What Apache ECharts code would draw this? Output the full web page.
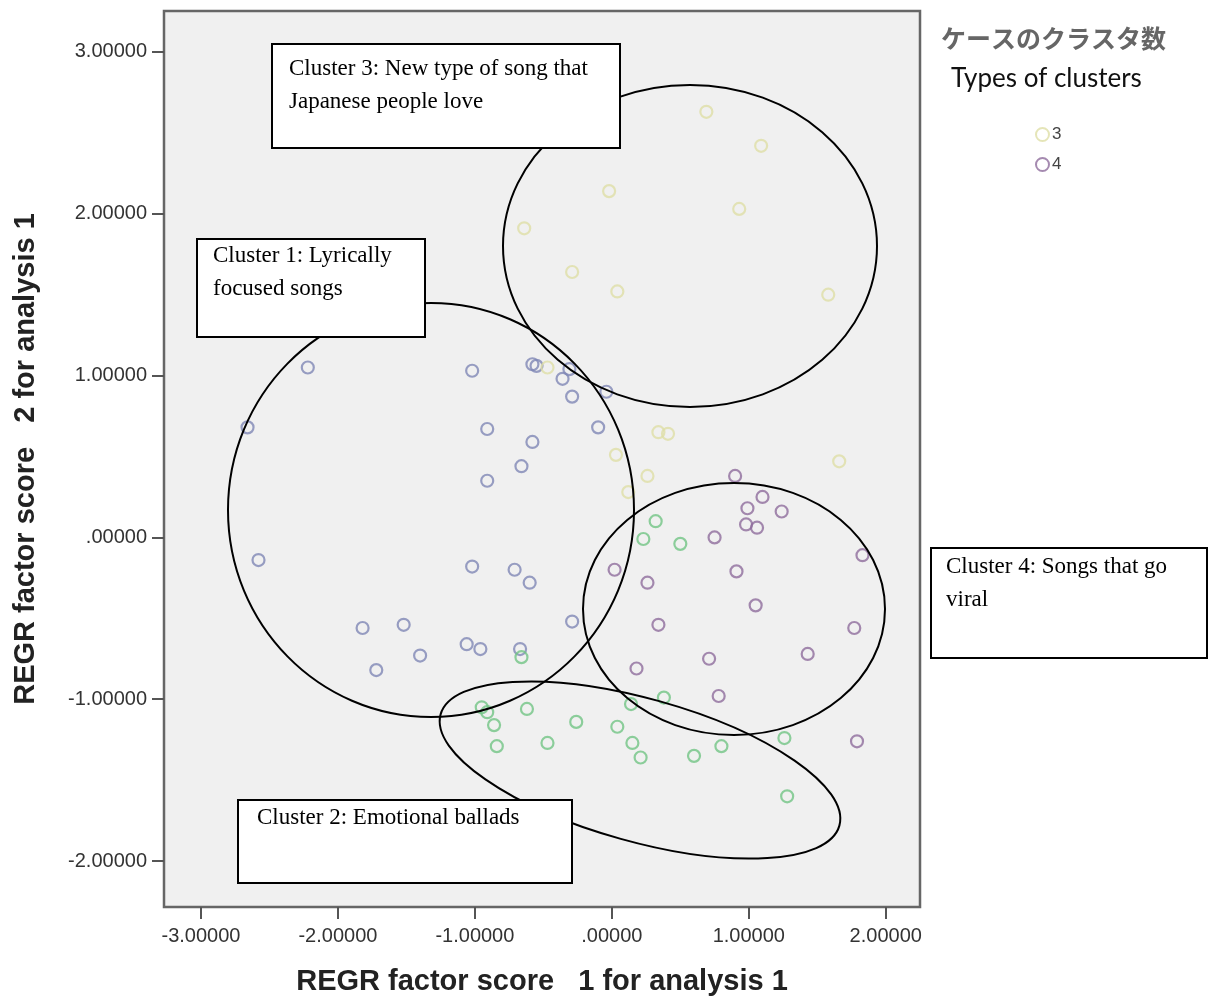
<!DOCTYPE html>
<html>
<head>
<meta charset="utf-8">
<script src="https://cdn.jsdelivr.net/npm/echarts@6/dist/echarts.min.js"></script>
<style>
  html, body { margin: 0; padding: 0; background: #fff; }
  #chart { width: 1208px; height: 1000px; }
</style>
</head>
<body>
<div id="chart"></div>
<script>
// factor scores, [score 1, score 2]
const cluster1 = [
  [-2.22, 1.05], [-2.66, 0.68], [-2.58, -0.14], [-1.02, 1.03], [-0.58, 1.07],
  [-0.55, 1.06], [-0.36, 0.98], [-0.31, 1.04], [-0.29, 0.87], [-0.04, 0.90],
  [-0.10, 0.68], [-0.91, 0.67], [-0.58, 0.59], [-0.66, 0.44], [-0.91, 0.35],
  [-1.02, -0.18], [-0.71, -0.20], [-0.60, -0.28], [-0.29, -0.52], [-1.82, -0.56],
  [-1.52, -0.54], [-1.40, -0.73], [-1.72, -0.82], [-1.06, -0.66], [-0.96, -0.69],
  [-0.67, -0.69]
];
const cluster2 = [
  [-0.95, -1.05], [-0.91, -1.08], [-0.86, -1.16], [-0.84, -1.29], [-0.62, -1.06],
  [-0.47, -1.27], [-0.26, -1.14], [0.04, -1.17], [0.14, -1.03], [0.15, -1.27],
  [0.21, -1.36], [0.38, -0.99], [0.60, -1.35], [0.80, -1.29], [1.26, -1.24],
  [1.28, -1.60], [0.32, 0.10], [0.23, -0.01], [0.50, -0.04], [-0.66, -0.74]
];
const cluster3 = [
  [0.69, 2.63], [1.09, 2.42], [-0.02, 2.14], [0.93, 2.03], [-0.64, 1.91],
  [-0.29, 1.64], [0.04, 1.52], [1.58, 1.50], [-0.47, 1.05], [0.34, 0.65],
  [0.41, 0.64], [0.03, 0.51], [0.26, 0.38], [0.12, 0.28], [1.66, 0.47]
];
const cluster4 = [
  [0.90, 0.38], [1.10, 0.25], [0.99, 0.18], [1.24, 0.16], [0.98, 0.08],
  [1.06, 0.06], [0.75, 0.00], [1.83, -0.11], [0.02, -0.20], [0.26, -0.28],
  [0.91, -0.21], [1.05, -0.42], [0.34, -0.54], [1.77, -0.56], [1.43, -0.72],
  [0.18, -0.81], [0.71, -0.75], [0.78, -0.98], [1.79, -1.26]
];
const clusterNames = ['1', '2', '3', '4'];
const legendNames = ['3', '4'];
const xTicks = [-3, -2, -1, 0, 1, 2];
const yTicks = [-2, -1, 0, 1, 2, 3];

const colors = ['#7f87b5', '#72c484', '#dedea6', '#8f6d9c'];
const fmt = v => (v === 0 ? '.00000' : v.toFixed(5));

const chart = echarts.init(document.getElementById('chart'));

const series = [cluster1, cluster2, cluster3, cluster4].map((d, i) => ({
  name: clusterNames[i],
  type: 'scatter',
  data: d,
  symbol: 'circle',
  symbolSize: 12,
  itemStyle: { color: 'transparent', borderColor: colors[i], borderWidth: 2.2 },
  emphasis: { disabled: true },
  z: 2
}));

// hand-drawn notes that sit on top of the plot
const box = (x, y, w, h) => ({
  type: 'rect', z: 110,
  shape: { x: x, y: y, width: w, height: h },
  style: { fill: '#fff', stroke: '#000', lineWidth: 2 }
});
const note = (x, y, text) => ({
  type: 'text', z: 120, x: x, y: y,
  style: { text: text, font: '23px "Liberation Serif"', fill: '#000', verticalAlign: 'middle' }
});
const ring = (x, y, rx, ry, rot) => ({
  type: 'ellipse', z: 100, x: x, y: y, rotation: rot || 0,
  shape: { cx: 0, cy: 0, rx: rx, ry: ry },
  style: { fill: 'none', stroke: '#000', lineWidth: 2 }
});

chart.setOption({
  backgroundColor: '#fff',
  animation: false,
  title: [
    {
      text: 'ケースのクラスタ数', left: 936, top: 21,
      textStyle: { fontFamily: '"Noto Sans CJK JP"', fontSize: 25, fontWeight: 'bold', color: '#666' }
    },
    {
      text: 'Types of clusters', left: 946, top: 61,
      textStyle: { fontFamily: 'Lato', fontSize: 26, fontWeight: 'normal', color: '#111' }
    }
  ],
  legend: {
    orient: 'vertical', left: 1030, top: 121,
    itemWidth: 13, itemHeight: 13, itemGap: 13,
    data: legendNames.map(n => ({
      name: n, icon: 'circle',
      itemStyle: { color: 'transparent', borderColor: colors[clusterNames.indexOf(n)], borderWidth: 2 }
    })),
    textStyle: { fontFamily: '"Liberation Sans"', fontSize: 17, color: '#444', padding: [0, 0, 0, -2] },
    selectedMode: false
  },
  grid: {
    left: 164, top: 11, right: 288, bottom: 93,
    outerBoundsMode: 'none',
    show: true, backgroundColor: '#f0f0f0', borderColor: '#666', borderWidth: 2.5
  },
  xAxis: {
    type: 'value', min: -3.27, max: 2.25,
    name: 'REGR factor score   1 for analysis 1',
    nameLocation: 'middle', nameGap: 60,
    nameTextStyle: { fontFamily: '"Liberation Sans"', fontSize: 29, fontWeight: 'bold', color: '#222' },
    axisLine: { show: false, onZero: false },
    axisTick: { show: true, customValues: xTicks, length: 12, lineStyle: { color: '#555', width: 2 } },
    axisLabel: {
      customValues: xTicks, formatter: fmt, margin: 19,
      fontFamily: '"Liberation Sans"', fontSize: 20, color: '#333'
    },
    splitLine: { show: false }
  },
  yAxis: {
    type: 'value', min: -2.284, max: 3.253,
    name: 'REGR factor score   2 for analysis 1',
    nameLocation: 'middle', nameGap: 124,
    nameTextStyle: { fontFamily: '"Liberation Sans"', fontSize: 29, fontWeight: 'bold', color: '#222' },
    axisLine: { show: false, onZero: false },
    axisTick: { show: true, customValues: yTicks, length: 12, lineStyle: { color: '#555', width: 2 } },
    axisLabel: {
      customValues: yTicks, formatter: fmt, margin: 17,
      fontFamily: '"Liberation Sans"', fontSize: 20, color: '#333'
    },
    splitLine: { show: false }
  },
  series: series,
  graphic: [
    ring(690, 246, 187, 161),
    ring(431, 510, 203, 207),
    ring(734, 609, 151, 126),
    ring(640, 770, 207, 71.5, -0.272),
    box(272, 44, 348, 104),
    note(289, 69, 'Cluster 3: New type of song that'),
    note(289, 102, 'Japanese people love'),
    box(197, 239, 228, 98),
    note(213, 256, 'Cluster 1: Lyrically'),
    note(213, 289, 'focused songs'),
    box(931, 548, 276, 110),
    note(946, 567, 'Cluster 4: Songs that go'),
    note(946, 600, 'viral'),
    box(238, 800, 334, 83),
    note(257, 818, 'Cluster 2: Emotional ballads')
  ]
});
</script>
</body>
</html>
